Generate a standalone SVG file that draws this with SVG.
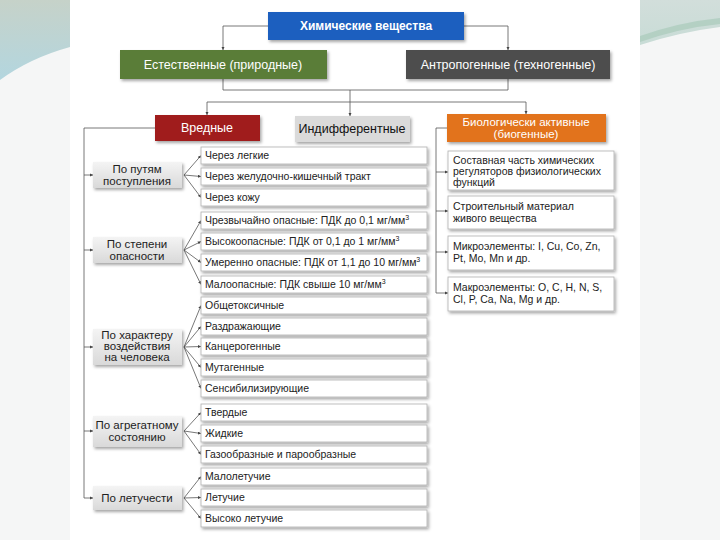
<svg xmlns="http://www.w3.org/2000/svg" width="720" height="540" viewBox="0 0 720 540">
<defs>
<linearGradient id="tealL" x1="0" y1="0" x2="0" y2="1"><stop offset="0" stop-color="#c6d2c9"/><stop offset="1" stop-color="#b3d6df"/></linearGradient>
<linearGradient id="tealR" x1="0" y1="0" x2="0" y2="1"><stop offset="0" stop-color="#d2dedb"/><stop offset="1" stop-color="#c8dcd6"/></linearGradient>
<linearGradient id="grey" x1="0" y1="0" x2="0" y2="1"><stop offset="0" stop-color="#f4f4f4"/><stop offset="1" stop-color="#d9d9d9"/></linearGradient>
<filter id="sh" x="-10%" y="-20%" width="125%" height="160%"><feDropShadow dx="1.5" dy="2" stdDeviation="1.5" flood-color="#000" flood-opacity="0.35"/></filter>
<marker id="ar" viewBox="0 0 6 6" refX="6" refY="3" markerWidth="4" markerHeight="4" orient="auto"><path d="M0,0 L6,3 L0,6 z" fill="#444"/></marker>
</defs>
<style>
.t{font-family:"Liberation Sans",Arial,sans-serif;font-size:10.5px;fill:#222}
.w{font-family:"Liberation Sans",Arial,sans-serif;font-size:12.5px;fill:#fff;text-anchor:middle}
.c{font-family:"Liberation Sans",Arial,sans-serif;font-size:11.5px;fill:#222;text-anchor:middle}
.item{fill:#fff;stroke:#b0b0b0;stroke-width:0.8;filter:url(#sh)}
.cat{fill:url(#grey);filter:url(#sh)}
.ln{fill:none;stroke:#555;stroke-width:0.8}
.la{fill:none;stroke:#555;stroke-width:0.8;marker-end:url(#ar)}
</style>
<rect width="720" height="540" fill="#f5f6f6"/>
<rect x="70" y="0" width="570" height="540" fill="#fff"/>
<path d="M0,0 H70 V47 Q30,58 0,80 Z" fill="url(#tealL)"/>
<path d="M640,0 H720 V27 Q680,32 640,45 Z" fill="url(#tealR)"/>
<path d="M640,36 Q680,22 720,18 V24 Q680,28 640,42 Z" fill="#a9cbbb" opacity="0.7"/>

<g id="connectors">
<path class="la" d="M268,26 H223 V50"/>
<path class="la" d="M463,26 H508 V50"/>
<path class="ln" d="M223,79 V90 H508 V79"/>
<path class="ln" d="M350,90 V102"/>
<path class="ln" d="M207,102 H526"/>
<path class="la" d="M207,102 V115"/>
<path class="la" d="M350,102 V116"/>
<path class="la" d="M526,102 V114"/>
<path class="ln" d="M155,128 H84 V498"/>
<path class="la" d="M84,175 H93"/>
<path class="la" d="M84,250 H93"/>
<path class="la" d="M84,347 H93"/>
<path class="la" d="M84,431 H93"/>
<path class="la" d="M84,498 H93"/>
<path class="la" d="M184,175 L201,155.5"/>
<path class="la" d="M184,175 L201,176.5"/>
<path class="la" d="M184,175 L201,197.5"/>
<path class="la" d="M184,250 L201,220.5"/>
<path class="la" d="M184,250 L201,241.5"/>
<path class="la" d="M184,250 L201,262.5"/>
<path class="la" d="M184,250 L201,284.5"/>
<path class="la" d="M184,347 L201,305.5"/>
<path class="la" d="M184,347 L201,326.5"/>
<path class="la" d="M184,347 L201,346.5"/>
<path class="la" d="M184,347 L201,367.5"/>
<path class="la" d="M184,347 L201,388.5"/>
<path class="la" d="M184,431 L201,412.5"/>
<path class="la" d="M184,431 L201,433.5"/>
<path class="la" d="M184,431 L201,454.5"/>
<path class="la" d="M184,498 L201,476.5"/>
<path class="la" d="M184,498 L201,497.5"/>
<path class="la" d="M184,498 L201,518.5"/>
<path class="ln" d="M447,128 H436 V293"/>
<path class="la" d="M436,172 H448"/>
<path class="la" d="M436,211 H448"/>
<path class="la" d="M436,252 H448"/>
<path class="la" d="M436,293 H448"/>
</g>

<g id="n-root"><rect x="268" y="12" width="196" height="28" fill="#1f5fbf" filter="url(#sh)"/><text x="366" y="30" class="w" style="font-weight:bold;font-size:12px">Химические вещества</text></g>
<g id="n-nat"><rect x="120" y="50" width="207" height="29" fill="#5a7d38" filter="url(#sh)"/><text x="223" y="69" class="w">Естественные (природные)</text></g>
<g id="n-anthro"><rect x="406" y="50" width="204" height="29" fill="#4d4d4d" filter="url(#sh)"/><text x="508" y="69" class="w">Антропогенные (техногенные)</text></g>
<g id="n-harm"><rect x="155" y="115" width="105" height="26" fill="#a01b1b" filter="url(#sh)"/><text x="207" y="132" class="w">Вредные</text></g>
<g id="n-indiff"><rect x="295" y="116" width="115" height="26" fill="#dadada" filter="url(#sh)"/><text x="352" y="133" class="w" style="fill:#111">Индифферентные</text></g>
<g id="n-bio"><rect x="447" y="114" width="159" height="28" fill="#e2731f" filter="url(#sh)"/><text x="526" y="126" class="w" style="font-size:11.5px">Биологически активные</text><text x="526" y="138" class="w" style="font-size:11.5px">(биогенные)</text></g>

<g id="c1"><rect class="cat" x="93" y="162" width="89" height="26"/><text x="137" y="173" class="c">По путям</text><text x="137" y="185" class="c">поступления</text></g>
<g id="c2"><rect class="cat" x="93" y="237" width="89" height="26"/><text x="137" y="248" class="c">По степени</text><text x="137" y="260" class="c">опасности</text></g>
<g id="c3"><rect class="cat" x="93" y="329" width="89" height="36"/><text x="137" y="339" class="c">По характеру</text><text x="137" y="350" class="c">воздействия</text><text x="137" y="361" class="c">на человека</text></g>
<g id="c4"><rect class="cat" x="93" y="416" width="89" height="31"/><text x="137" y="429" class="c">По агрегатному</text><text x="137" y="441" class="c">состоянию</text></g>
<g id="c5"><rect class="cat" x="93" y="486" width="89" height="24"/><text x="137" y="502" class="c">По летучести</text></g>

<g id="i1"><rect class="item" x="201" y="147" width="226" height="17"/><text x="205" y="159" class="t">Через легкие</text></g>
<g id="i2"><rect class="item" x="201" y="168" width="226" height="17"/><text x="205" y="180" class="t">Через желудочно-кишечный тракт</text></g>
<g id="i3"><rect class="item" x="201" y="189" width="226" height="17"/><text x="205" y="201" class="t">Через кожу</text></g>
<g id="i4"><rect class="item" x="201" y="212" width="226" height="17"/><text x="205" y="224" class="t">Чрезвычайно опасные: ПДК до 0,1 мг/мм<tspan dy="-4" font-size="7">3</tspan></text></g>
<g id="i5"><rect class="item" x="201" y="233" width="226" height="17"/><text x="205" y="245" class="t">Высокоопасные: ПДК от 0,1 до 1 мг/мм<tspan dy="-4" font-size="7">3</tspan></text></g>
<g id="i6"><rect class="item" x="201" y="254" width="226" height="17"/><text x="205" y="266" class="t">Умеренно опасные: ПДК от 1,1 до 10 мг/мм<tspan dy="-4" font-size="7">3</tspan></text></g>
<g id="i7"><rect class="item" x="201" y="276" width="226" height="17"/><text x="205" y="288" class="t">Малоопасные: ПДК свыше 10 мг/мм<tspan dy="-4" font-size="7">3</tspan></text></g>
<g id="i8"><rect class="item" x="201" y="297" width="226" height="17"/><text x="205" y="309" class="t">Общетоксичные</text></g>
<g id="i9"><rect class="item" x="201" y="318" width="226" height="17"/><text x="205" y="330" class="t">Раздражающие</text></g>
<g id="i10"><rect class="item" x="201" y="338" width="226" height="17"/><text x="205" y="350" class="t">Канцерогенные</text></g>
<g id="i11"><rect class="item" x="201" y="359" width="226" height="17"/><text x="205" y="371" class="t">Мутагенные</text></g>
<g id="i12"><rect class="item" x="201" y="380" width="226" height="17"/><text x="205" y="392" class="t">Сенсибилизирующие</text></g>
<g id="i13"><rect class="item" x="201" y="404" width="226" height="17"/><text x="205" y="416" class="t">Твердые</text></g>
<g id="i14"><rect class="item" x="201" y="425" width="226" height="17"/><text x="205" y="437" class="t">Жидкие</text></g>
<g id="i15"><rect class="item" x="201" y="446" width="226" height="17"/><text x="205" y="458" class="t">Газообразные и парообразные</text></g>
<g id="i16"><rect class="item" x="201" y="468" width="226" height="17"/><text x="205" y="480" class="t">Малолетучие</text></g>
<g id="i17"><rect class="item" x="201" y="489" width="226" height="17"/><text x="205" y="501" class="t">Летучие</text></g>
<g id="i18"><rect class="item" x="201" y="510" width="226" height="17"/><text x="205" y="522" class="t">Высоко летучие</text></g>

<g id="b1"><rect class="item" x="448" y="151" width="166" height="39"/><text x="453" y="164" class="t">Составная часть химических</text><text x="453" y="175" class="t">регуляторов физиологических</text><text x="453" y="186" class="t">функций</text></g>
<g id="b2"><rect class="item" x="448" y="196" width="166" height="33"/><text x="453" y="210" class="t">Строительный материал</text><text x="453" y="222" class="t">живого вещества</text></g>
<g id="b3"><rect class="item" x="448" y="236" width="166" height="34"/><text x="453" y="250" class="t">Микроэлементы: I, Cu, Co, Zn,</text><text x="453" y="262" class="t">Pt, Mo, Mn и др.</text></g>
<g id="b4"><rect class="item" x="448" y="277" width="166" height="34"/><text x="453" y="291" class="t">Макроэлементы: O, C, H, N, S,</text><text x="453" y="303" class="t">Cl, P, Ca, Na, Mg и др.</text></g>
</svg>
